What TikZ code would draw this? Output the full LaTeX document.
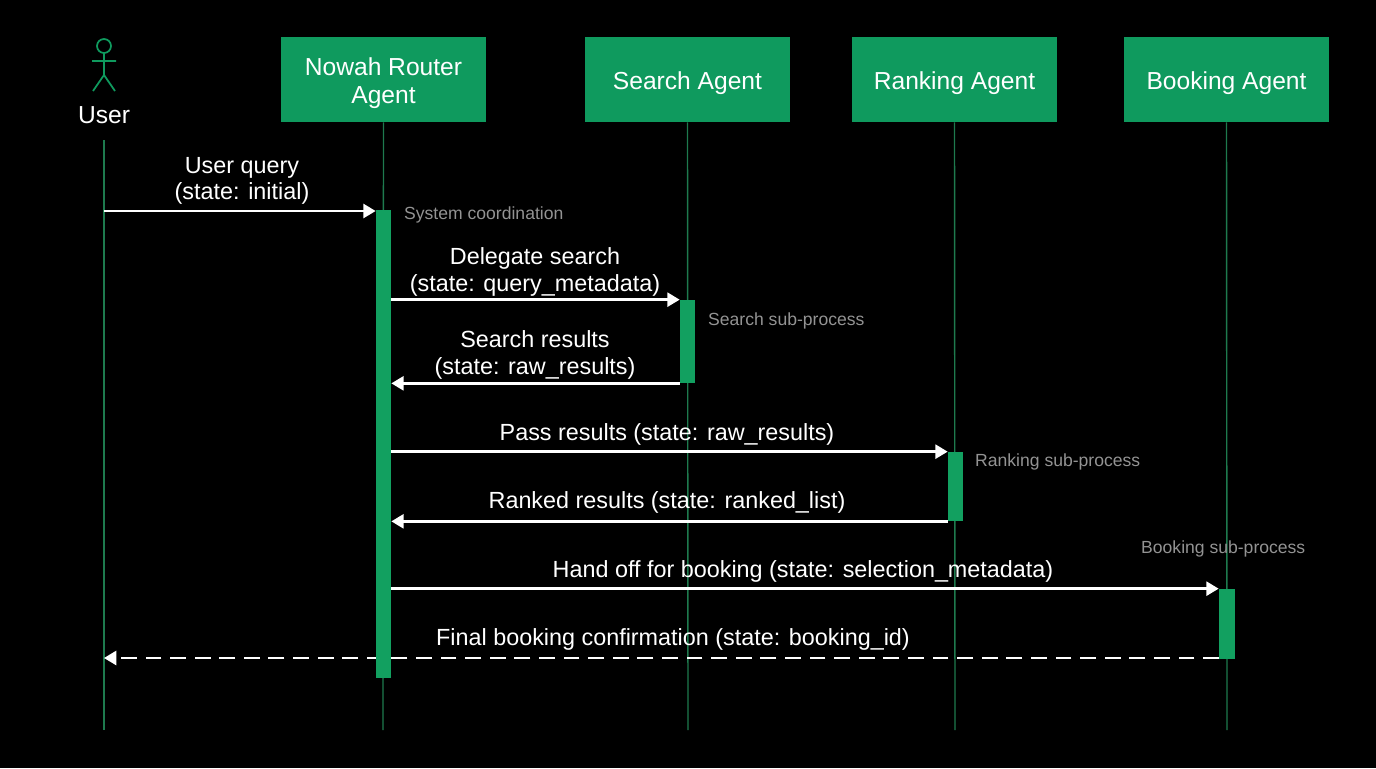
\documentclass[tikz,border=0pt]{standalone}
\usepackage{fontspec}
\setmainfont{Liberation Sans}
\usetikzlibrary{arrows.meta}
\definecolor{boxg}{HTML}{0F9A5E}
\definecolor{lineg}{HTML}{1E7A4E}
\definecolor{actg}{HTML}{12A060}
\begin{document}
\begin{tikzpicture}[x=0.02cm,y=-0.02cm,
  hdr/.style={fill=boxg,draw=none,text=white,minimum width=4.1cm,minimum height=1.7cm,align=center,font=\fontsize{14pt}{16pt}\selectfont},
  life/.style={draw=lineg,line width=0.8pt},
  act/.style={fill=actg,draw=none},
  msg/.style={draw=white,line width=1.4pt,-{Triangle[length=7pt,width=8pt]}},
  lbl/.style={text=white,align=center,font=\fontsize{13.3pt}{15pt}\selectfont},
  note/.style={text=gray!85,font=\fontsize{10pt}{12pt}\selectfont,anchor=west}]
\fill[black] (0,0) rectangle (1376,768);
\node[hdr] (r) at (383.5,79.5) {};
\node[text=white,align=center,font=\fontsize{14pt}{16pt}\selectfont] at (383.5,83) {Nowah Router\\Agent};
\node[hdr] (s) at (687.5,79.5) {};
\node[text=white,font=\fontsize{14pt}{16pt}\selectfont] at (687.5,83) {Search Agent};
\node[hdr] (k) at (954.5,79.5) {};
\node[text=white,font=\fontsize{14pt}{16pt}\selectfont] at (954.5,83) {Ranking Agent};
\node[hdr] (b) at (1226.5,79.5) {};
\node[text=white,font=\fontsize{14pt}{16pt}\selectfont] at (1226.5,83) {Booking Agent};
% user stick figure
\begin{scope}[draw=boxg,line width=1pt]
\draw (104,46) circle (7);
\draw (104,53) -- (104,75) (92,61) -- (116,61) (104,75) -- (93,91) (104,75) -- (115,91);
\end{scope}
\node[text=white,font=\fontsize{14pt}{16pt}\selectfont] (u) at (104,115) {User};
\coordinate (ue) at (104,730);
\coordinate (re) at (383,730);
\coordinate (se) at (688,730);
\coordinate (ke) at (955,730);
\coordinate (be) at (1227,730);
\draw[life] (104,140) -- (ue);
\draw[life] (r.south) -- (re);
\draw[life] (s.south) -- (se);
\draw[life] (k.south) -- (ke);
\draw[life] (b.south) -- (be);
\coordinate (u2) at (104,658);
\draw[msg,dash pattern=on 9pt off 5pt] (1219,658) -- (u2);
\node[act,minimum width=0.3cm,minimum height=9.36cm,inner sep=0] (ra) at (383.5,444) {};
\node[act,minimum width=0.3cm,minimum height=1.66cm,inner sep=0] (sa) at (687.5,341.5) {};
\node[act,minimum width=0.3cm,minimum height=1.38cm,inner sep=0] (ka) at (955.5,486.5) {};
\node[act,minimum width=0.32cm,minimum height=1.4cm,inner sep=0] (ba) at (1227,624) {};
\coordinate (u1) at (104,211);
\draw[msg] (u1) -- (ra.north west |- u1);
\node[lbl] at (242,181) {User query\\(state: initial)};
\node[note] at (398,215) {System coordination};
\draw[msg] (ra.east |- sa.north) -- (sa.north west);
\node[lbl] at (535,272) {Delegate search\\(state: query\_metadata)};
\node[note] at (702,321) {Search sub-process};
\draw[msg] (sa.south west) -- (ra.east |- sa.south);
\node[lbl] at (535,355) {Search results\\(state: raw\_results)};
\draw[msg] (ra.east |- ka.north) -- (ka.north west);
\node[lbl] at (667,434) {Pass results (state: raw\_results)};
\node[note] at (969,462) {Ranking sub-process};
\draw[msg] (ka.south west) -- (ra.east |- ka.south);
\node[lbl] at (667,502) {Ranked results (state: ranked\_list)};
\node[note] at (1135,549) {Booking sub-process};
\draw[msg] (ra.east |- ba.north) -- (ba.north west);
\node[lbl] at (803,571) {Hand off for booking (state: selection\_metadata)};
\node[lbl] at (673,639) {Final booking confirmation (state: booking\_id)};
\end{tikzpicture}
\end{document}
